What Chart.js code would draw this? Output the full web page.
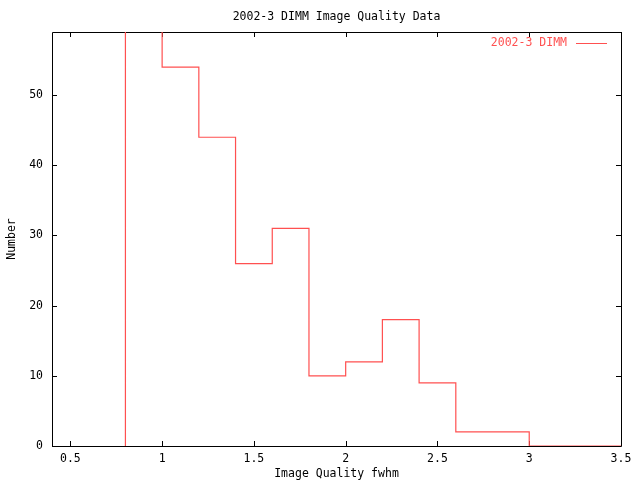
<!DOCTYPE html>
<html>
<head>
<meta charset="utf-8">
<title>2002-3 DIMM Image Quality Data</title>
<script src="https://cdn.jsdelivr.net/npm/chart.js@4.4.1/dist/chart.umd.min.js"></script>
<style>
    html, body { margin: 0; padding: 0; background: #fff; }
    #wrap { width: 640px; height: 480px; position: relative; }
</style>
</head>
<body>
<div id="wrap"><canvas id="dimmChart"></canvas></div>
<script>
/* 2002-3 DIMM seeing histogram, gnuplot style */

const seriesName = '2002-3 DIMM';
// bin edges (fwhm, arcsec) and counts per bin
const binEdges = [0.8, 1.0, 1.2, 1.4, 1.6, 1.8, 2.0, 2.2, 2.4, 2.6, 2.8, 3.0, 3.2, 3.4, 3.6];
const binCounts = [70, 54, 44, 26, 31, 10, 12, 18, 9, 2, 2, 0, 0, 0];
const xTicks = [0.5, 1, 1.5, 2, 2.5, 3, 3.5];
const yTicks = [0, 10, 20, 30, 40, 50];

const RED = 'rgb(255, 80, 80)';
const FONT = "'DejaVu Sans Mono', 'Liberation Mono', monospace";

// step points: start at the first edge on zero, then each bin's count at its right edge
const stepPoints = [{ x: binEdges[0], y: 0 }].concat(
    binCounts.map((c, i) => ({ x: binEdges[i + 1], y: c }))
);

// box + inward ticks on all four sides, plus the gnuplot-style key
const gnuplotFrame = {
    id: 'gnuplotFrame',
    beforeDatasetsDraw(chart) {
        const { ctx, chartArea: a, scales } = chart;
        const len = 5;
        ctx.save();
        ctx.strokeStyle = '#000';
        ctx.lineWidth = 1;
        ctx.beginPath();
        ctx.rect(Math.round(a.left) + 0.5, Math.round(a.top) + 0.5,
                 Math.round(a.right - a.left), Math.round(a.bottom - a.top));
        xTicks.forEach(v => {
            const x = Math.round(scales.x.getPixelForValue(v)) + 0.5;
            ctx.moveTo(x, a.bottom); ctx.lineTo(x, a.bottom - len);
            ctx.moveTo(x, a.top); ctx.lineTo(x, a.top + len);
        });
        yTicks.forEach(v => {
            const y = Math.round(scales.y.getPixelForValue(v)) + 0.5;
            ctx.moveTo(a.left, y); ctx.lineTo(a.left + len, y);
            ctx.moveTo(a.right, y); ctx.lineTo(a.right - len, y);
        });
        ctx.stroke();
        ctx.restore();
    },
    afterDatasetsDraw(chart) {
        const { ctx, chartArea: a } = chart;
        const y = a.top + 11;
        const lineRight = a.right - 14;
        const lineLeft = lineRight - 31;
        ctx.save();
        ctx.font = '11.5px ' + FONT;
        ctx.fillStyle = RED;
        ctx.textAlign = 'right';
        ctx.textBaseline = 'middle';
        ctx.fillText(chart.data.datasets[0].label, lineLeft - 9, y);
        ctx.strokeStyle = RED;
        ctx.lineWidth = 1;
        ctx.beginPath();
        ctx.moveTo(lineLeft, Math.round(y) + 0.5);
        ctx.lineTo(lineRight, Math.round(y) + 0.5);
        ctx.stroke();
        ctx.restore();
    }
};

Chart.defaults.color = '#000';
Chart.defaults.font.family = FONT;
Chart.defaults.font.size = 11.5;

new Chart(document.getElementById('dimmChart'), {
    type: 'line',
    data: {
        datasets: [{
            label: seriesName,
            data: stepPoints,
            borderColor: RED,
            borderWidth: 1.2,
            stepped: 'after',
            pointRadius: 0,
            fill: false,
            tension: 0
        }]
    },
    options: {
        responsive: true,
        maintainAspectRatio: false,
        animation: false,
        layout: { padding: { left: 0, right: 19, top: 0, bottom: 0 } },
        plugins: {
            legend: { display: false },
            tooltip: { enabled: false },
            title: {
                display: true,
                text: '2002-3 DIMM Image Quality Data',
                fullSize: false,
                font: { weight: 'normal' },
                padding: { top: 10, bottom: 8.2 }
            }
        },
        scales: {
            x: {
                type: 'linear',
                min: 0.4,
                max: 3.5,
                grid: { display: false, drawTicks: false },
                border: { display: false },
                ticks: { padding: 6, maxRotation: 0, callback: v => String(v) },
                afterBuildTicks: s => { s.ticks = xTicks.map(v => ({ value: v })); },
                afterFit: s => { s.height = 34; },
                title: { display: true, text: 'Image Quality fwhm', padding: { top: 0, bottom: -1 } }
            },
            y: {
                min: 0,
                max: 59,
                grid: { display: false, drawTicks: false },
                border: { display: false },
                ticks: { padding: 9, callback: v => String(v) },
                afterBuildTicks: s => { s.ticks = yTicks.map(v => ({ value: v })); },
                afterFit: s => { s.width = 52; },
                title: { display: true, text: 'Number', padding: 5.5 }
            }
        }
    },
    plugins: [gnuplotFrame]
});
</script>
</body>
</html>
